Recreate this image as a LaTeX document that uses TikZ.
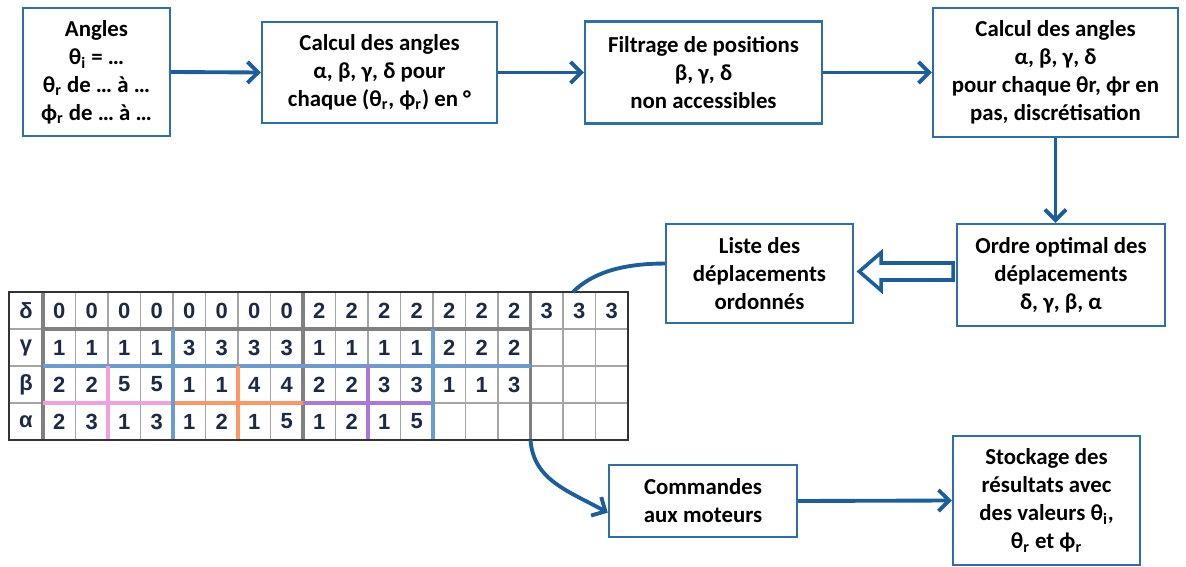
\documentclass[tikz,border=0pt]{standalone}
\usepackage{fontspec}
\setmainfont{Carlito}
\newfontfamily\tabfont{Liberation Sans}
\usetikzlibrary{arrows.meta, calc}

\definecolor{boxblue}{RGB}{46,110,170}
\definecolor{arrowblue}{RGB}{28,94,156}
\definecolor{cellgray}{RGB}{165,165,165}
\definecolor{sepgray}{RGB}{128,128,128}
\definecolor{tabtext}{RGB}{28,42,70}
\definecolor{grpblue}{RGB}{106,156,210}
\definecolor{grppink}{RGB}{238,160,225}
\definecolor{grporange}{RGB}{255,150,100}
\definecolor{grppurple}{RGB}{170,120,215}

\begin{document}
\begin{tikzpicture}[
    x=0.02cm, y=-0.02cm,
    >={Straight Barb[length=6pt, width=12pt]},
    box/.style={draw=boxblue, line width=1.4pt, fill=white, align=center, inner sep=2pt,
        font={\fontsize{13}{16}\selectfont\bfseries}},
    conn/.style={->, draw=arrowblue, line width=2.2pt},
    link/.style={draw=arrowblue, line width=2.2pt},
    hollow/.style={draw=arrowblue, line width=2pt, fill=white, line join=miter},
    thin/.style={cellgray, line width=0.8pt},
    sep/.style={sepgray, line width=2.2pt},
    grp/.style={line width=2.2pt},
    cell/.style={font={\tabfont\bfseries\fontsize{12.5}{14}\selectfont}, text=tabtext, inner sep=0pt}
]

    \useasboundingbox (0,0) rectangle (1186,567);

    \def\cw{32.5} % cell width
    \def\rh{37}   % row height
    \def\tx{43}   % first data column
    \def\ty{292}  % top of table

    % top row
    \node[box, minimum width=2.94cm, minimum height=2.56cm] (angles) at (96.5,72)
        {Angles\\θ\textsubscript{i} = …\\θ\textsubscript{r} de … à …\\ϕ\textsubscript{r} de … à …};
    \node[box, minimum width=4.7cm, minimum height=2.02cm] (calc) at (379.5,72.5)
        {Calcul des angles\\α, β, γ, δ pour\\chaque (θ\textsubscript{r}, ϕ\textsubscript{r}) en °};
    \node[box, minimum width=4.74cm, minimum height=2.04cm] (filtre) at (703.5,72.5)
        {Filtrage de positions\\β, γ, δ\\non accessibles};
    \node[box, minimum width=4.9cm, minimum height=2.58cm] (calc2) at (1055.5,72.5)
        {Calcul des angles\\α, β, γ, δ\\pour chaque θr, ϕr en\\pas, discrétisation};

    % middle row
    \node[box, minimum width=4.16cm, minimum height=2.04cm] (ordre) at (1061,275)
        {Ordre optimal des\\déplacements\\δ, γ, β, α};
    \node[box, minimum width=3.74cm, minimum height=1.98cm] (liste) at (759.5,273.5)
        {Liste des\\déplacements\\ordonnés};

    % bottom row
    \node[box, minimum width=3.76cm, minimum height=1.44cm] (cmd) at (703,501)
        {Commandes\\aux moteurs};
    \node[box, minimum width=3.74cm, minimum height=2.58cm] (stock) at (1046.5,500.5)
        {Stockage des\\résultats avec\\des valeurs θ\textsubscript{i},\\θ\textsubscript{r} et ϕ\textsubscript{r}};

    % table grid
    \foreach \k in {1,...,17}
        \draw[thin] (\tx+\k*\cw, \ty) -- (\tx+\k*\cw, \ty+4*\rh);
    \foreach \k in {1,2,3}
        \draw[thin] (9, \ty+\k*\rh) -- (628, \ty+\k*\rh);
    \foreach \k in {0,8,15}
        \draw[sep] (\tx+\k*\cw, \ty) -- (\tx+\k*\cw, \ty+4*\rh);
    \draw[sep] (\tx, \ty+\rh) -- (\tx+15*\cw, \ty+\rh);

    % groups
    \draw[grp, grpblue] (\tx, \ty+2*\rh) -- (\tx+15*\cw, \ty+2*\rh);
    \foreach \a/\k/\c in {0/2/grppink, 4/6/grporange, 8/10/grppurple} {
        \draw[grp, \c] (\tx+\a*\cw, \ty+3*\rh) -- (\tx+\a*\cw+4*\cw, \ty+3*\rh);
        \draw[grp, \c] (\tx+\k*\cw, \ty+2*\rh) -- (\tx+\k*\cw, \ty+4*\rh);
    }
    \foreach \k in {4,12}
        \draw[grp, grpblue] (\tx+\k*\cw, \ty+\rh) -- (\tx+\k*\cw, \ty+4*\rh);
    \draw[line width=1pt, black!80] (9,\ty) rectangle (628,\ty+4*\rh);

    % table values
    \foreach \lab [count=\r] in {δ,γ,β,α}
        \node[cell] (lab\r) at (26, \ty+\r*\rh-\rh/2) {\lab};
    \foreach \v [count=\c] in {0,0,0,0,0,0,0,0,2,2,2,2,2,2,2,3,3,3}
        \node[cell] (d\c) at (\tx+\c*\cw-\cw/2, \ty+\rh/2) {\v};
    \foreach \v [count=\c] in {1,1,1,1,3,3,3,3,1,1,1,1,2,2,2}
        \node[cell] (g\c) at (\tx+\c*\cw-\cw/2, \ty+\rh+\rh/2) {\v};
    \foreach \v [count=\c] in {2,2,5,5,1,1,4,4,2,2,3,3,1,1,3}
        \node[cell] (b\c) at (\tx+\c*\cw-\cw/2, \ty+2*\rh+\rh/2) {\v};
    \foreach \v [count=\c] in {2,3,1,3,1,2,1,5,1,2,1,5}
        \node[cell] (a\c) at (\tx+\c*\cw-\cw/2, \ty+3*\rh+\rh/2) {\v};

    \coordinate (tabtop) at (573,\ty);
    \coordinate (tabbot) at (\tx+15*\cw,\ty+4*\rh);

    % connectors
    \draw[conn] (angles.east) -- (calc.west);
    \draw[conn] (calc.east) -- (filtre.west);
    \draw[conn] (filtre.east) -- (calc2.west);
    \draw[conn] (calc2.south) -- (calc2.south |- ordre.north);
    \draw[hollow] ($(liste.east)+(5,-2)$) -- ++(22,-19) -- ++(0,10.5) -- ++(72,0)
        -- ++(0,17) -- ++(-72,0) -- ++(0,10.5) -- cycle;
    \draw[link] (liste.174) .. controls ($(liste.174)+(-45,0)$) and ($(tabtop)+(18,-18)$) .. (tabtop);
    \draw[conn] (tabbot) .. controls ($(tabbot)+(3,40)$) and ($(cmd.187)+(-40,-22)$) .. (cmd.187);
    \draw[conn] (cmd.east) -- (stock.west);

\end{tikzpicture}
\end{document}
